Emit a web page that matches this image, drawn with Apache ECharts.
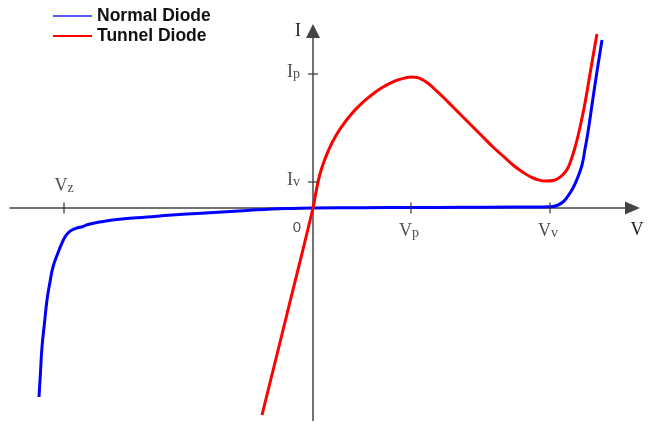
<!DOCTYPE html>
<html>
<head>
<meta charset="utf-8">
<script src="https://cdn.jsdelivr.net/npm/echarts@6/dist/echarts.min.js"></script>
<style>
  html, body { margin: 0; padding: 0; background: #fff; }
  #chart { width: 648px; height: 423px; }
</style>
</head>
<body>
<div id="chart"></div>
<script>
// I-V characteristics, arbitrary units (voltage on x, current on y)
const normalV = [-2.74, -2.725, -2.71, -2.685, -2.66, -2.63, -2.60, -2.555, -2.51, -2.48, -2.45, -2.41, -2.36, -2.30, -2.25, -2.10, -1.91, -1.66, -1.41, -1.16, -0.91, -0.66, -0.41, -0.20, 0, 0.5, 1.0, 1.5, 2.0, 2.2, 2.37, 2.44, 2.50, 2.55, 2.60, 2.645, 2.69, 2.72, 2.75, 2.80, 2.85, 2.89];
const normalI = [-1.89, -1.64, -1.39, -1.15, -0.92, -0.74, -0.59, -0.46, -0.35, -0.29, -0.25, -0.22, -0.20, -0.185, -0.165, -0.135, -0.11, -0.09, -0.07, -0.055, -0.04, -0.025, -0.01, -0.004, 0, 0.003, 0.005, 0.007, 0.009, 0.01, 0.013, 0.025, 0.06, 0.12, 0.20, 0.30, 0.43, 0.59, 0.76, 1.10, 1.43, 1.68];

const tunnelV = [-0.51, -0.25, 0, 0.03, 0.07, 0.12, 0.17, 0.23, 0.30, 0.37, 0.44, 0.52, 0.60, 0.68, 0.77, 0.85, 0.92, 0.98, 1.04, 1.10, 1.16, 1.22, 1.30, 1.40, 1.50, 1.60, 1.70, 1.80, 1.90, 2.00, 2.08, 2.17, 2.25, 2.33, 2.40, 2.45, 2.50, 2.54, 2.57, 2.61, 2.65, 2.69, 2.72, 2.77, 2.82, 2.84];
const tunnelI = [-2.07, -1.02, 0, 0.16, 0.34, 0.49, 0.61, 0.724, 0.832, 0.923, 1.0, 1.076, 1.141, 1.197, 1.247, 1.281, 1.30, 1.31, 1.305, 1.28, 1.24, 1.185, 1.11, 1.01, 0.91, 0.81, 0.71, 0.61, 0.52, 0.43, 0.37, 0.315, 0.283, 0.27, 0.275, 0.295, 0.335, 0.385, 0.45, 0.57, 0.72, 0.90, 1.05, 1.34, 1.63, 1.74];

// Marked points on the axes
const voltTicks = [-2.49, 0.98, 2.37];      // Vz, Vp, Vv
const voltTickSubs = ['z', 'p', 'v'];
const currentTicks = [1.34, 0.26];          // Ip, Iv
const currentTickSubs = ['p', 'v'];

const seriesNames = ['Normal Diode', 'Tunnel Diode'];

const zip = (xs, ys) => xs.map((x, i) => [x, ys[i]]);

const serif = 'Liberation Serif, Times New Roman, serif';
const sans = 'Liberation Sans, Arial, sans-serif';
const axisColor = '#444';
const textColor = '#222';

const richLabel = {
  m: { fontFamily: serif, fontSize: 18, color: textColor },
  s: { fontFamily: serif, fontSize: 14, color: textColor, padding: [4, 0, 0, 0] },
  o: { fontFamily: sans, fontSize: 15, color: textColor }
};

const tickData = [];
voltTicks.forEach((v, i) => {
  tickData.push({
    value: [v, 0],
    text: `{m|V}{s|${voltTickSubs[i]}}`,
    symbolSize: [1.5, 11],
    label: v < 0
      ? { position: 'top', distance: 7 }
      : { position: 'bottom', distance: 9, offset: [-2, 0] }
  });
});
currentTicks.forEach((c, i) => {
  tickData.push({
    value: [0, c],
    text: `{m|I}{s|${currentTickSubs[i]}}`,
    symbolSize: [10, 1.5],
    label: { position: 'left', distance: 8, offset: [0, -2] }
  });
});
// origin mark
tickData.push({
  value: [0, 0],
  text: '{o|0}',
  symbolSize: 0,
  label: { position: 'bottom', distance: 12, offset: [-16, 0] }
});

const chart = echarts.init(document.getElementById('chart'), null, { renderer: 'canvas' });

chart.setOption({
  animation: false,
  backgroundColor: '#fff',
  legend: {
    orient: 'vertical',
    left: 53,
    top: 6,
    padding: 0,
    itemGap: 0,
    itemWidth: 39,
    itemHeight: 2,
    icon: 'rect',
    textStyle: { fontFamily: sans, fontSize: 17.5, fontWeight: 'bold', color: '#111', lineHeight: 20 },
    data: [
      { name: seriesNames[0], itemStyle: { color: '#5a5aff' } },
      { name: seriesNames[1], itemStyle: { color: '#ff0000' } }
    ]
  },
  grid: { left: 10, right: 15.5, top: 31, bottom: 2.5, containLabel: false, outerBoundsMode: 'none' },
  xAxis: {
    type: 'value',
    min: -3.03,
    max: 3.195,
    name: 'V',
    nameLocation: 'end',
    nameGap: -2,
    nameTextStyle: { fontFamily: serif, fontSize: 18, color: textColor, align: 'left', verticalAlign: 'top', padding: [13, 0, 0, 0] },
    axisLine: { onZero: true, symbol: ['none', 'triangle'], symbolSize: [13, 15], lineStyle: { color: axisColor, width: 1.5 } },
    axisTick: { show: false },
    splitLine: { show: false },
    axisLabel: { show: false }
  },
  yAxis: {
    type: 'value',
    min: -2.125,
    max: 1.77,
    name: 'I',
    nameLocation: 'end',
    nameGap: 0,
    nameTextStyle: { fontFamily: serif, fontSize: 18, color: textColor, align: 'right', verticalAlign: 'middle', padding: [4, 12, 0, 0] },
    axisLine: { onZero: true, symbol: ['none', 'triangle'], symbolSize: [14, 14], lineStyle: { color: axisColor, width: 1.5 } },
    axisTick: { show: false },
    splitLine: { show: false },
    axisLabel: { show: false }
  },
  series: [
    {
      name: seriesNames[0],
      type: 'line',
      data: zip(normalV, normalI),
      smooth: 0.5,
      showSymbol: false,
      lineStyle: { color: '#0000ff', width: 3 },
      itemStyle: { color: '#0000ff' },
      z: 3
    },
    {
      name: seriesNames[1],
      type: 'line',
      data: zip(tunnelV, tunnelI),
      smooth: 0.5,
      showSymbol: false,
      lineStyle: { color: '#ff0000', width: 3 },
      itemStyle: { color: '#ff0000' },
      z: 4
    },
    {
      name: 'ticks',
      type: 'scatter',
      symbol: 'rect',
      data: tickData,
      itemStyle: { color: '#333' },
      silent: true,
      z: 5,
      label: {
        show: true,
        formatter: (p) => p.data.text,
        rich: richLabel
      }
    }
  ]
});
</script>
</body>
</html>
